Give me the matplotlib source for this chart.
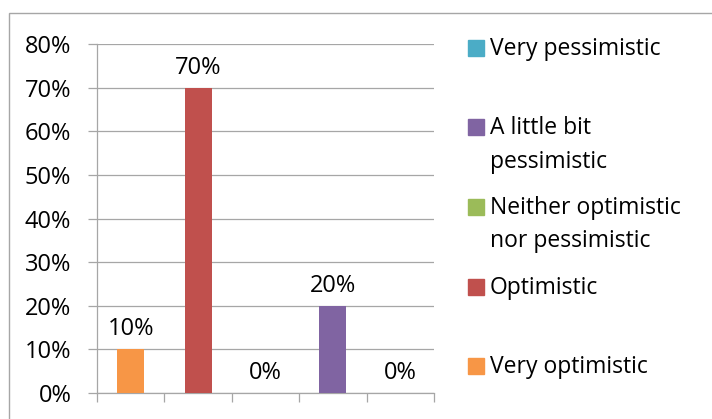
import matplotlib.pyplot as plt
from matplotlib.patches import Rectangle
from matplotlib.ticker import PercentFormatter

plt.rcParams['font.family'] = ['Open Sans', 'DejaVu Sans']

# Answers, left to right on the axis
categories = ['Very optimistic', 'Optimistic', 'Neither optimistic\nnor pessimistic',
              'A little bit\npessimistic', 'Very pessimistic']
shares = [10, 70, 0, 20, 0]
colors = ['#F79646', '#C0504D', '#9BBB59', '#8064A2', '#4BACC6']

W, H = 712, 419
fig = plt.figure(figsize=(W / 100, H / 100), dpi=100)

# outer chart frame (runs off the right and bottom edge)
fig.patches.append(Rectangle((8.5 / W, -0.1), 1.2, 1 - 13.5 / H + 0.1,
                             transform=fig.transFigure, fill=False,
                             edgecolor='#a6a6a6', linewidth=1.0))

ax = fig.add_axes([97 / W, 1 - 393 / H, (434 - 97) / W, (393 - 44) / H])

x = range(len(categories))
bars = ax.bar(x, shares, width=0.4, color=colors, zorder=3)

ax.set_xlim(-0.5, len(categories) - 0.5)
ax.set_ylim(0, 80)
ax.set_yticks(range(0, 81, 10))
ax.yaxis.set_major_formatter(PercentFormatter(decimals=0))
ax.set_xticks([i - 0.5 for i in range(len(categories) + 1)])
ax.set_xticklabels([])
ax.grid(axis='y', color='#a6a6a6', linewidth=0.9, zorder=0)

for side in ['top', 'right']:
    ax.spines[side].set_visible(False)
for side in ['left', 'bottom']:
    ax.spines[side].set_color('#a6a6a6')
    ax.spines[side].set_linewidth(0.9)
ax.tick_params(axis='both', direction='out', length=6.5, width=0.9, color='#a6a6a6',
               labelsize=17)
ax.tick_params(axis='y', pad=12)

# value labels above each bar
for i, v in enumerate(shares):
    ax.annotate(f'{v}%', (i, v), xytext=(0, 20), textcoords='offset pixels',
                ha='center', va='center', fontsize=17)

# legend, listed in reverse order down the right side
for k, (lab, col) in enumerate(zip(categories[::-1], colors[::-1])):
    yc = 48 + k * 79.5
    fig.patches.append(Rectangle((468 / W, 1 - (yc + 8) / H), 16 / W, 16 / H,
                                 transform=fig.transFigure, color=col))
    fig.text(490 / W, 1 - (yc - 11) / H, lab, ha='left', va='top',
             fontsize=16.5, linespacing=1.5)

fig.savefig('out.png', dpi=100)
